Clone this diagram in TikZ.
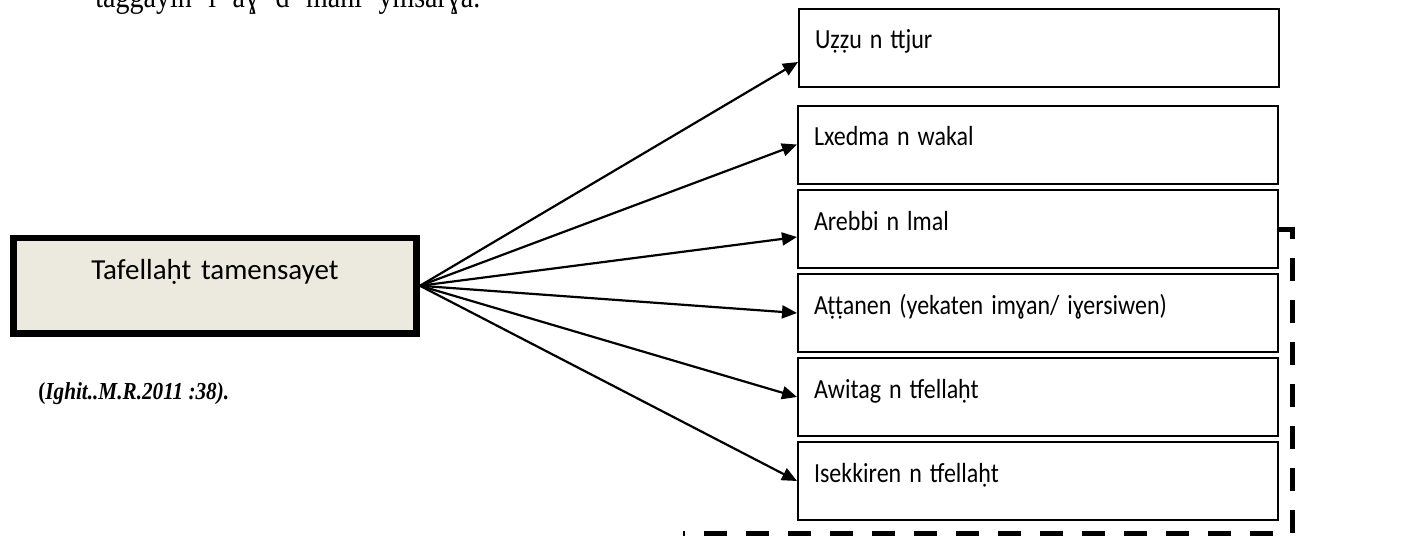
\documentclass[tikz,border=0pt]{standalone}
\usepackage{fontspec}
\usepackage{graphicx}
\setmainfont{Liberation Serif}
\newfontfamily\calibri{Carlito}
\usetikzlibrary{arrows.meta,positioning}
\definecolor{rootfill}{RGB}{236,234,222}
\newcommand{\tall}[1]{\scalebox{1}[1.15]{#1}}
\tikzset{
  rootbox/.style={draw,line width=3.25pt,fill=rootfill,font=\calibri\fontsize{14.5}{17}\selectfont,
    text width=185.7pt,align=center,text height=20.5pt,text depth=27.25pt,inner xsep=8pt,inner ysep=0pt},
  itembox/.style={draw,line width=1pt,font=\calibri\fontsize{12}{14}\selectfont,
    text width=224pt,align=left,text height=20pt,text depth=19pt,inner xsep=8pt,inner ysep=0pt},
  feed/.style={line width=1.1pt,-{Triangle[length=7.5pt,width=6.5pt]}}
}

\begin{document}
\begin{tikzpicture}[x=0.5pt,y=-0.5pt]
  \clip (0,0) rectangle (1426,538);
  % cut line of the page text above
  \node[anchor=base west,inner sep=0pt,font=\fontsize{14}{16}\selectfont] (topline) at (95,7)
    {\tall{\makebox[192.5pt][s]{taggayin i aɣ d mani ymsarɣa.}}};
  % root
  \node[rootbox] (root) at (215,285.75) {Tafellaḥt tamensayet};
  \node[anchor=west,inner sep=0pt,font=\bfseries\fontsize{10.6}{12}\selectfont] (cite) at (38,394)
    {\tall{(\textit{Ighit..M.R.2011 :38).}}};
  % items
  \node[itembox] (uzzu) at (1039,47.5) {\tall{Uẓẓu n ttjur}};
  \node[itembox] (lxedma) at (1038,144.5) {\tall{Lxedma n wakal}};
  \node[itembox] (arebbi) at (1038,229) {\tall{Arebbi n lmal}};
  \node[itembox] (attanen) at (1038,313) {\tall{Aṭṭanen (yekaten imɣan/ iɣersiwen)}};
  \node[itembox] (awitag) at (1038,397) {\tall{Awitag n tfellaḥt}};
  \node[itembox] (isekkiren) at (1038,481) {\tall{Isekkiren n tfellaḥt}};
  % arrows
  \draw[feed] (root.east) -- ([yshift=-7.25pt]uzzu.west);
  \draw[feed] (root.east) -- ([yshift=-4pt]arebbi.west);
  \foreach \item in {lxedma,attanen,awitag,isekkiren}
    \draw[feed] (root.east) -- (\item.west);
  % dashed frame
  \coordinate (loopright) at (1292,533);
  \coordinate (loopend) at (683,533);
  \draw[line width=2.5pt,dash pattern=on 11.5pt off 9.5pt] (arebbi.east) -| (loopright) -- (loopend);
\end{tikzpicture}
\end{document}
